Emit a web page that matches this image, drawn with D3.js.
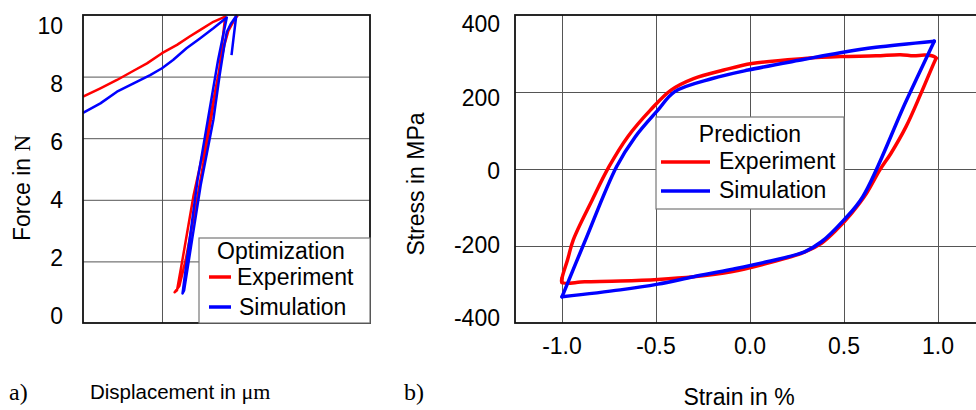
<!DOCTYPE html>
<html>
<head>
<meta charset="utf-8">
<script src="https://cdn.jsdelivr.net/npm/d3@7"></script>
<style>
  html, body { margin: 0; padding: 0; background: #fff; }
  svg { display: block; }
  text { font-family: "Liberation Sans", Arial, sans-serif; fill: #000; }
  .serif { font-family: "Liberation Serif", "Times New Roman", serif; }
</style>
</head>
<body>
<svg id="chart" width="976" height="410"></svg>
<script>
// ---------------- DATA ----------------
// Panel a) Force vs displacement (displacement in arbitrary µm units, no tick labels)
const forceTicks = [0, 2, 4, 6, 8, 10];
const dispGrid = [1];
const seriesNames = ["Experiment", "Simulation"];
const legendTitleA = "Optimization";
const legendTitleB = "Prediction";

const expA_disp = [0.00, 0.22, 0.43, 0.64, 0.81, 1.00, 1.19, 1.35, 1.48, 1.65, 1.80,
                   1.72, 1.58, 1.42, 1.30, 1.22, 1.16,
                   1.19, 1.28, 1.40, 1.56, 1.70, 1.79, 1.84, 1.90, 1.94, 1.96];
const expA_force = [7.35, 7.62, 7.89, 8.19, 8.43, 8.76, 9.03, 9.30, 9.51, 9.78, 9.95,
                    8.12, 6.01, 3.67, 2.05, 1.20, 1.00,
                    1.06, 2.36, 4.15, 6.01, 7.89, 9.03, 9.48, 9.77, 9.97, 9.92];

const simA_disp = [0.00, 0.22, 0.43, 0.64, 0.85, 1.00, 1.14, 1.31, 1.48, 1.65, 1.82,
                   1.71, 1.58, 1.45, 1.34, 1.26,
                   1.28, 1.38, 1.49, 1.65, 1.73, 1.79, 1.82, 1.87, 1.94, 1.91, 1.88];
const simA_force = [6.82, 7.13, 7.51, 7.78, 8.05, 8.27, 8.54, 8.92, 9.24, 9.57, 9.92,
                    8.54, 6.59, 4.64, 2.53, 0.96,
                    1.06, 2.69, 4.48, 6.59, 8.05, 9.03, 9.45, 9.71, 9.97, 9.35, 8.70];

// Panel b) Stress vs strain
const strainTicks = [-1.0, -0.5, 0.0, 0.5, 1.0];
const stressTicks = [-400, -200, 0, 200, 400];

const expB_strain = [-1.00, -1.00, -0.97, -0.94, -0.84, -0.75, -0.65, -0.53, -0.42, -0.30, -0.14, 0.01,
                     0.29, 0.48, 0.67, 0.80, 0.87, 0.93, 0.98, 0.99,
                     0.97, 0.91, 0.83, 0.75, 0.69, 0.62, 0.54, 0.46, 0.38, 0.29, 0.09,
                     -0.10, -0.30, -0.49, -0.69, -0.88, -1.00, -1.00];
const expB_stress = [-295, -284, -235, -184, -81, 6, 84, 153, 205, 235, 257, 274,
                     287, 292, 294, 297, 294, 296, 292, 288,
                     266, 197, 110, 41, -3, -63, -115, -158, -193, -216, -245,
                     -267, -280, -287, -291, -293, -295, -284];

const simB_strain = [-1.00, -0.88, -0.71, -0.61, -0.49, -0.40, -0.20, -0.01, 0.29, 0.48, 0.67, 0.98,
                     0.83, 0.60, 0.50, 0.38, 0.29, 0.09, -0.10, -0.30, -0.49, -0.69, -1.00];
const simB_stress = [-332, -190, 6, 84, 153, 201, 235, 257, 285, 302, 316, 332,
                     176, -72, -132, -189, -215, -241, -261, -280, -299, -314, -332];

// ---------------- DRAW ----------------
const svg = d3.select("#chart");
svg.append("rect").attr("width", 976).attr("height", 410).attr("fill", "#fff");

const RED = "#ff0000", BLUE = "#0000ff";
const gridColor = "#555";

function zip(a, b) { return a.map((v, i) => [v, b[i]]); }
// split a loop into its rising and falling branches at the point of max strain
function branches(xs, ys) {
  const k = d3.maxIndex(xs);
  const pts = zip(xs, ys);
  return [pts.slice(0, k + 1), pts.slice(k)];
}

// ===== Panel a =====
const xA = d3.scaleLinear().domain([0, 3.633]).range([83, 370]);
const yA = d3.scaleLinear().domain([0, 10]).range([323, 15]);
const yAlab = d3.scaleLinear().domain([0, 10]).range([316, 26]);

const gA = svg.append("g");
gA.append("g").attr("transform", `translate(${xA.range()[0]},0)`)
  .call(d3.axisLeft(yA).tickValues(forceTicks.filter(v => v > 0 && v < 10))
        .tickSize(-(xA.range()[1] - xA.range()[0])).tickFormat(""))
  .call(g => g.select(".domain").remove())
  .call(g => g.selectAll("line").attr("stroke", gridColor).attr("stroke-width", 1));
gA.append("g").attr("transform", `translate(0,${yA.range()[0]})`)
  .call(d3.axisBottom(xA).tickValues(dispGrid)
        .tickSize(-(yA.range()[0] - yA.range()[1])).tickFormat(""))
  .call(g => g.select(".domain").remove())
  .call(g => g.selectAll("line").attr("stroke", gridColor).attr("stroke-width", 1));

gA.selectAll("text.ytl").data(forceTicks).enter().append("text")
  .attr("class", "ytl")
  .attr("x", 63).attr("y", d => yAlab(d)).attr("dy", "0.36em")
  .attr("text-anchor", "end").attr("font-size", 23)
  .text(d => d);

const lineA = d3.line().x(d => xA(d[0])).y(d => yA(d[1]));
gA.append("path").datum(zip(expA_disp, expA_force))
  .attr("d", lineA).attr("fill", "none").attr("stroke", RED).attr("stroke-width", 2.5)
  .attr("stroke-linejoin", "round");
gA.append("path").datum(zip(simA_disp, simA_force))
  .attr("d", lineA).attr("fill", "none").attr("stroke", BLUE).attr("stroke-width", 2.5)
  .attr("stroke-linejoin", "round");

gA.append("rect").attr("x", xA.range()[0]).attr("y", yA.range()[1])
  .attr("width", xA.range()[1] - xA.range()[0]).attr("height", yA.range()[0] - yA.range()[1])
  .attr("fill", "none").attr("stroke", "#111").attr("stroke-width", 1.8);

const legA = gA.append("g");
legA.append("rect").attr("x", 199).attr("y", 238).attr("width", 171).attr("height", 85)
  .attr("fill", "#fff").attr("stroke", "#777").attr("stroke-width", 1.2);
legA.append("text").attr("x", 281).attr("y", 259).attr("text-anchor", "middle")
  .attr("font-size", 23).text(legendTitleA);
[RED, BLUE].forEach((c, i) => {
  const yy = 277 + i * 30;
  legA.append("line").attr("x1", 209).attr("x2", 231).attr("y1", yy).attr("y2", yy)
    .attr("stroke", c).attr("stroke-width", 3.5);
  legA.append("text").attr("x", 237 + i * 2).attr("y", yy + 8).attr("font-size", 23)
    .text(seriesNames[i]);
});

svg.append("text").attr("transform", "translate(30,188) rotate(-90)")
  .attr("text-anchor", "middle").attr("font-size", 23)
  .call(t => {
    t.append("tspan").text("Force in ");
    t.append("tspan").style("font-family", '"Liberation Serif", serif').text("N");
  });
svg.append("text").attr("x", 90).attr("y", 399).attr("font-size", 20.5)
  .call(t => {
    t.append("tspan").text("Displacement in ");
    t.append("tspan").style("font-family", '"Liberation Serif", serif').attr("font-size", 22).text("μm");
  });
svg.append("text").attr("class", "serif").attr("x", 9).attr("y", 400)
  .attr("font-size", 24).text("a)");

// ===== Panel b =====
const xB = d3.scaleLinear().domain([-1.25, 1.25]).range([515, 985]);
const yB = d3.scaleLinear().domain([-400, 400]).range([323, 15]);
const yBlab = d3.scaleLinear().domain([-400, 400]).range([318, 24]);

const gB = svg.append("g");
gB.append("g").attr("transform", `translate(${xB.range()[0]},0)`)
  .call(d3.axisLeft(yB).tickValues(stressTicks.filter(v => v > -400 && v < 400))
        .tickSize(-(xB.range()[1] - xB.range()[0])).tickFormat(""))
  .call(g => g.select(".domain").remove())
  .call(g => g.selectAll("line").attr("stroke", gridColor).attr("stroke-width", 1));
gB.append("g").attr("transform", `translate(0,${yB.range()[0]})`)
  .call(d3.axisBottom(xB).tickValues(strainTicks)
        .tickSize(-(yB.range()[0] - yB.range()[1])).tickFormat(""))
  .call(g => g.select(".domain").remove())
  .call(g => g.selectAll("line").attr("stroke", gridColor).attr("stroke-width", 1));

gB.selectAll("text.ytl").data(stressTicks).enter().append("text")
  .attr("class", "ytl")
  .attr("x", 500).attr("y", d => yBlab(d)).attr("dy", "0.36em")
  .attr("text-anchor", "end").attr("font-size", 23)
  .text(d => d);
gB.selectAll("text.xtl").data(strainTicks).enter().append("text")
  .attr("class", "xtl")
  .attr("x", d => xB(d)).attr("y", 354)
  .attr("text-anchor", "middle").attr("font-size", 23)
  .text(d => d3.format(".1f")(d).replace("−", "-"));

const lineB = d3.line().x(d => xB(d[0])).y(d => yB(d[1])).curve(d3.curveCatmullRom.alpha(0.5));
[[expB_strain, expB_stress, RED], [simB_strain, simB_stress, BLUE]].forEach(([xs, ys, c]) => {
  gB.append("g").selectAll("path").data(branches(xs, ys)).enter().append("path")
    .attr("d", lineB).attr("fill", "none").attr("stroke", c).attr("stroke-width", 3.5)
    .attr("stroke-linejoin", "round").attr("stroke-linecap", "round");
});

gB.append("rect").attr("x", xB.range()[0]).attr("y", yB.range()[1])
  .attr("width", xB.range()[1] - xB.range()[0]).attr("height", yB.range()[0] - yB.range()[1])
  .attr("fill", "none").attr("stroke", "#111").attr("stroke-width", 1.8);

const legB = gB.append("g");
legB.append("rect").attr("x", 656).attr("y", 117).attr("width", 188).attr("height", 92)
  .attr("fill", "#fff").attr("stroke", "#777").attr("stroke-width", 1.2);
legB.append("text").attr("x", 750).attr("y", 142).attr("text-anchor", "middle")
  .attr("font-size", 23).text(legendTitleB);
[RED, BLUE].forEach((c, i) => {
  const yy = 162 + i * 29;
  legB.append("line").attr("x1", 661).attr("x2", 710).attr("y1", yy).attr("y2", yy)
    .attr("stroke", c).attr("stroke-width", 3.5);
  legB.append("text").attr("x", 719).attr("y", yy + 7).attr("font-size", 23)
    .text(seriesNames[i]);
});

svg.append("text").attr("transform", "translate(424,184) rotate(-90)")
  .attr("text-anchor", "middle").attr("font-size", 23).text("Stress in MPa");
svg.append("text").attr("x", 739).attr("y", 405).attr("text-anchor", "middle")
  .attr("font-size", 23).text("Strain in %");
svg.append("text").attr("class", "serif").attr("x", 404).attr("y", 400)
  .attr("font-size", 24).text("b)");
</script>
</body>
</html>
